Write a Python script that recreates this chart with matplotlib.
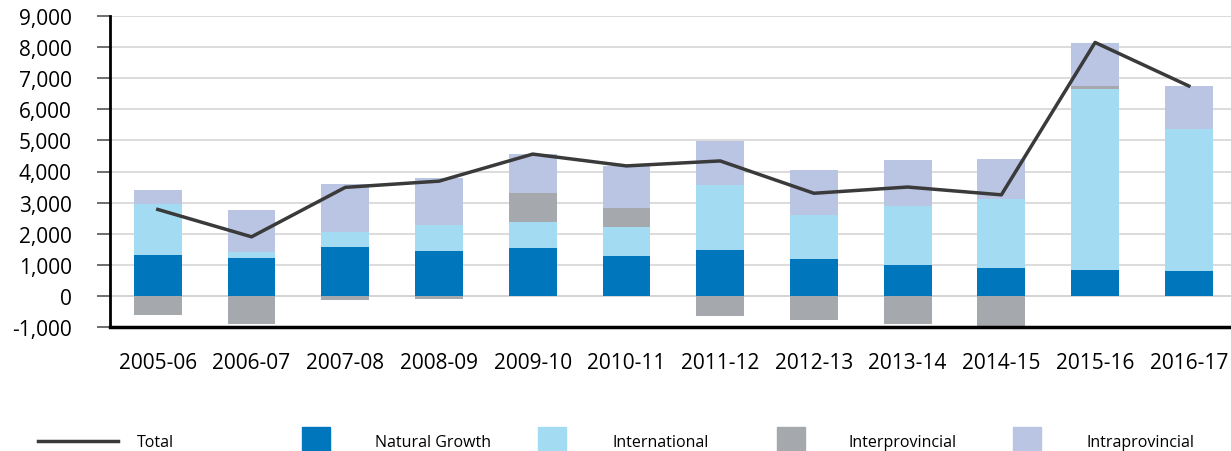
import numpy as np
import matplotlib.pyplot as plt
from matplotlib.patches import Rectangle
from matplotlib.lines import Line2D
from matplotlib.ticker import FuncFormatter

plt.rcParams['font.family'] = ['Open Sans', 'DejaVu Sans']

years = ['2005-06', '2006-07', '2007-08', '2008-09', '2009-10', '2010-11',
         '2011-12', '2012-13', '2013-14', '2014-15', '2015-16', '2016-17']
natural = [1320, 1220, 1580, 1450, 1540, 1290, 1480, 1190, 1000, 900, 840, 800]
international = [1640, 190, 480, 840, 840, 930, 2090, 1420, 1900, 2220, 5820, 4580]
interprovincial = [-630, -900, -130, -110, 930, 610, -660, -760, -890, -1150, 100, 0]
intraprovincial = [450, 1350, 1540, 1510, 1250, 1350, 1420, 1450, 1480, 1290, 1380, 1370]
total = [2780, 1900, 3490, 3690, 4560, 4180, 4340, 3300, 3500, 3250, 8150, 6750]

c_nat = '#0077BD'
c_int = '#A3DCF2'
c_ipr = '#A5A9AD'
c_itr = '#BAC4E3'
c_tot = '#3A3A3A'

x = np.arange(len(years))
nat = np.array(natural)
intl = np.array(international)
ipr = np.array(interprovincial)
itr = np.array(intraprovincial)

# positive interprovincial sits on top of the stack, negative hangs below zero
base = nat + intl
ipr_bottom = np.where(ipr > 0, base, 0)
itr_bottom = base + np.clip(ipr, 0, None)

fig = plt.figure(figsize=(12.31, 4.52), dpi=100)
ax = fig.add_axes([110 / 1231, 124 / 452, 1 - 110 / 1231, 311 / 452])

w = 0.51
ax.bar(x, nat, w, color=c_nat, zorder=3)
ax.bar(x, intl, w, bottom=nat, color=c_int, zorder=3)
ax.bar(x, ipr, w, bottom=ipr_bottom, color=c_ipr, zorder=3)
ax.bar(x, itr, w, bottom=itr_bottom, color=c_itr, zorder=3)
ax.plot(x, total, color=c_tot, lw=2.5, zorder=4)

ax.set_ylim(-1000, 9000)
ax.set_xlim(-0.51, 11.45)
ax.set_yticks(np.arange(-1000, 9001, 1000))
ax.yaxis.set_major_formatter(FuncFormatter(lambda v, p: f'{int(v):,}'))
ax.set_xticks(x)
ax.set_xticklabels(years)
ax.tick_params(axis='x', length=0, pad=18, labelsize=15)
ax.tick_params(axis='y', length=9.5, width=1.2, color='#555555', labelsize=15, pad=18)

ax.grid(axis='y', color='#D9D9D9', lw=1.3, zorder=0)
ax.axhline(0, color='#A0A0A0', lw=1.3, zorder=1)
for s in ['top', 'right']:
    ax.spines[s].set_visible(False)
ax.spines['left'].set_linewidth(2)
ax.spines['bottom'].set_linewidth(2.5)
ax.spines['left'].set_zorder(5)
ax.spines['bottom'].set_zorder(5)

# legend drawn in figure pixels
W, H = 1231, 452
ly = 443
fig.add_artist(Line2D([38 / W, 118 / W], [1 - 442 / H, 1 - 442 / H], color=c_tot, lw=2.5))
fig.text(137 / W, 1 - ly / H, 'Total', va='center', fontsize=11.5)
items = [(302, 375, c_nat, 'Natural Growth'),
         (538, 612, c_int, 'International'),
         (777, 849, c_ipr, 'Interprovincial'),
         (1013, 1087, c_itr, 'Intraprovincial')]
for px, tx, col, lab in items:
    fig.add_artist(Rectangle((px / W, 1 - 455 / H), 28 / W, 27 / H, color=col,
                             transform=fig.transFigure))
    fig.text(tx / W, 1 - ly / H, lab, va='center', fontsize=11.5)

fig.savefig('out.png', dpi=100)
